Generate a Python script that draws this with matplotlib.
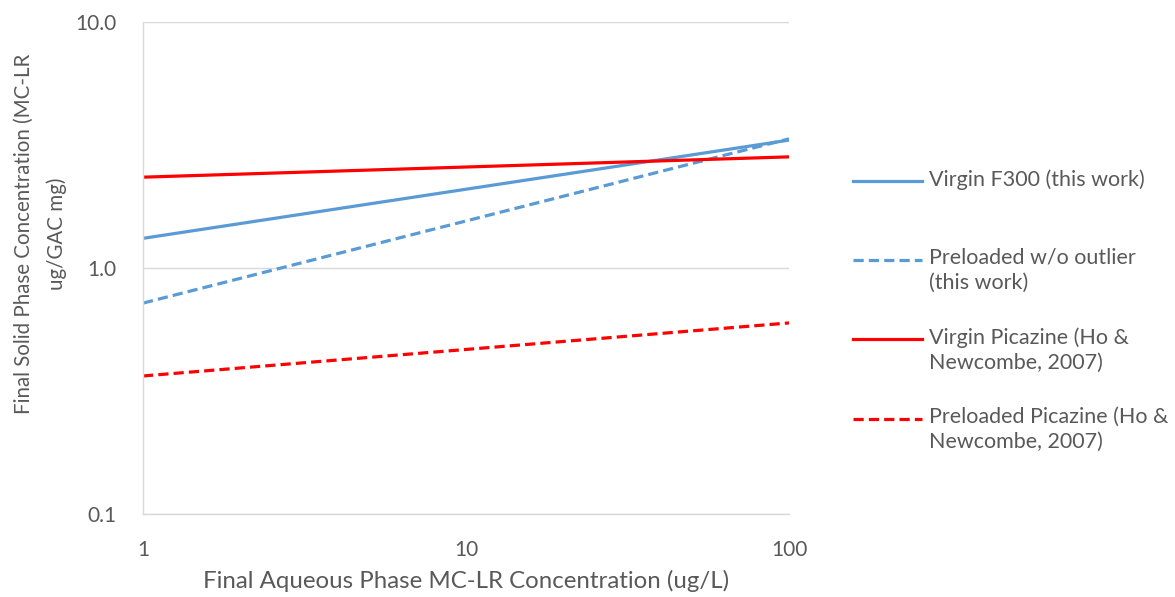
import matplotlib
matplotlib.use("Agg")
import matplotlib.pyplot as plt
from matplotlib.lines import Line2D
from matplotlib.ticker import FixedLocator, FixedFormatter, NullLocator

# Данные: концы линий изотерм (лог-лог)
x_conc = [1, 100]
virgin_f300 = [1.32, 3.31]
preloaded_f300 = [0.72, 3.35]
virgin_picazine = [2.34, 2.83]
preloaded_picazine = [0.364, 0.598]

series = [virgin_f300, preloaded_f300, virgin_picazine, preloaded_picazine]
labels = [
    "Virgin F300 (this work)",
    "Preloaded w/o outlier\n(this work)",
    "Virgin Picazine (Ho &\nNewcombe, 2007)",
    "Preloaded Picazine (Ho &\nNewcombe, 2007)",
]
colors = ["#5B9BD5", "#5B9BD5", "#FF0000", "#FF0000"]
dashed = [False, True, False, True]

y_ticks = [0.1, 1.0, 10.0]
y_tick_labels = ["0.1", "1.0", "10.0"]
x_ticks = [1, 10, 100]
x_tick_labels = ["1", "10", "100"]

TEXT_COLOR = "#595959"
GRID_COLOR = "#D9D9D9"
FONT = ["Lato", "DejaVu Sans"]

plt.rcParams["font.family"] = FONT

fig = plt.figure(figsize=(11.75, 5.97), dpi=100)
ax = fig.add_axes((143 / 1175, 1 - 514 / 597, (789 - 143) / 1175, (514 - 22) / 597))

for vals, col, dash in zip(series, colors, dashed):
    line, = ax.plot(x_conc, vals, color=col, linewidth=2.3, solid_capstyle="butt")
    if dash:
        line.set_dashes((3.2, 1.6))
        line.set_dash_capstyle("butt")

ax.set_xscale("log")
ax.set_yscale("log")
ax.set_xlim(1, 100)
ax.set_ylim(0.1, 10)

ax.xaxis.set_major_locator(FixedLocator(x_ticks))
ax.xaxis.set_major_formatter(FixedFormatter(x_tick_labels))
ax.xaxis.set_minor_locator(NullLocator())
ax.yaxis.set_major_locator(FixedLocator(y_ticks))
ax.yaxis.set_major_formatter(FixedFormatter(y_tick_labels))
ax.yaxis.set_minor_locator(NullLocator())

ax.grid(axis="y", color=GRID_COLOR, linewidth=1.0)
ax.set_axisbelow(True)
for side in ["top", "right"]:
    ax.spines[side].set_visible(False)
ax.spines["left"].set_color(GRID_COLOR)
ax.spines["bottom"].set_color(GRID_COLOR)
ax.spines["left"].set_linewidth(1.0)
ax.spines["bottom"].set_linewidth(1.0)

ax.tick_params(axis="both", length=0, labelsize=15, labelcolor=TEXT_COLOR)
ax.tick_params(axis="x", pad=19)
ax.tick_params(axis="y", pad=19)

ax.set_xlabel("Final Aqueous Phase MC-LR Concentration (ug/L)", fontsize=17.3, color=TEXT_COLOR, labelpad=7)
ax.set_ylabel("Final Solid Phase Concentration (MC-LR\nug/GAC mg)", fontsize=14.8, color=TEXT_COLOR,
              linespacing=1.8, va="center", ha="center")
# Подпись оси Y смещена вверх относительно центра, как в исходнике
ax.yaxis.set_label_coords((40.5 - 143) / 646, (514 - 234) / 492)

# Легенда вручную справа от графика
handle_y = [181, 260, 339, 419]
for lab, col, dash, hy in zip(labels, colors, dashed, handle_y):
    yf = 1 - hy / 597
    ln = Line2D([853 / 1175, 922 / 1175], [yf, yf], transform=fig.transFigure, color=col, linewidth=2.3)
    if dash:
        ln.set_dashes((3.2, 1.6))
    fig.add_artist(ln)
    fig.text(929 / 1175, 1 - (hy - 12) / 597, lab, fontsize=15.5, color=TEXT_COLOR, va="top", ha="left",
             linespacing=1.3)

fig.savefig("out.png", dpi=100)
